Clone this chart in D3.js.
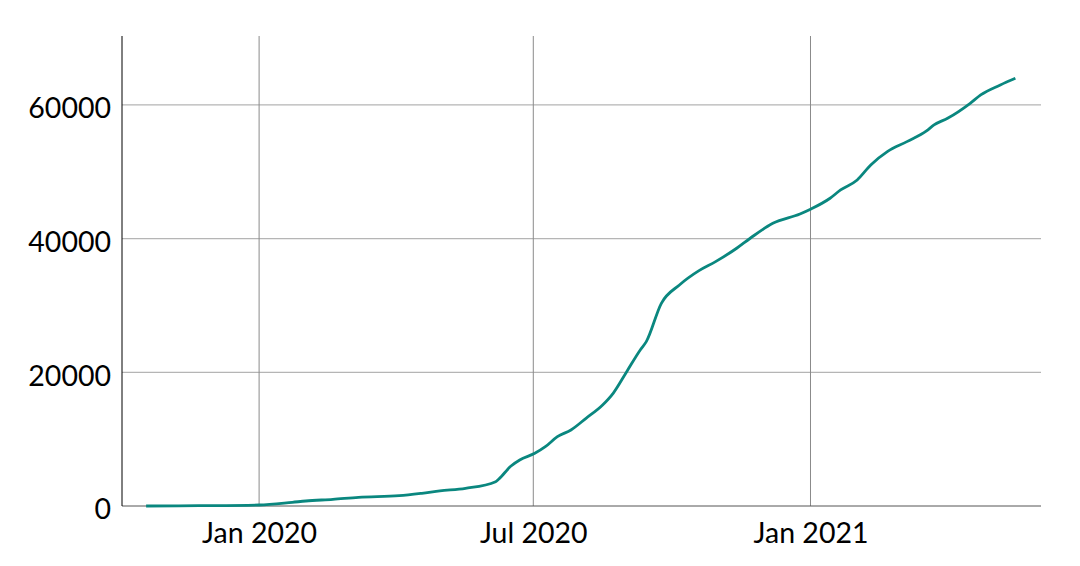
<!DOCTYPE html>
<html>
<head>
<meta charset="utf-8">
<script src="https://cdn.jsdelivr.net/npm/d3@7"></script>
<style>
  body { margin: 0; background: #fff; }
  svg { font-family: Lato, sans-serif; }
</style>
</head>
<body>
<svg id="chart" width="1080" height="566"></svg>
<script>
// cumulative count
let dates = ["2019-10-18","2019-11-22","2020-01-01","2020-01-23","2020-02-01","2020-02-19","2020-03-07",
  "2020-04-03","2020-04-18","2020-04-30","2020-05-17","2020-06-06","2020-06-08","2020-06-16","2020-06-22",
  "2020-07-02","2020-07-09","2020-07-17","2020-07-26","2020-08-05","2020-08-16","2020-08-23","2020-09-01",
  "2020-09-10","2020-09-14","2020-09-24","2020-10-06","2020-10-19","2020-10-30","2020-11-13","2020-11-22",
  "2020-12-07","2020-12-25","2021-01-01","2021-01-14","2021-01-21","2021-02-01","2021-02-10","2021-02-21",
  "2021-03-06","2021-03-19","2021-03-24","2021-04-02","2021-04-17","2021-04-24","2021-05-07","2021-05-17"];
let counts = [0, 50, 150, 550, 750, 1000, 1300,
  1540, 1900, 2250, 2650, 3640, 4000, 5940, 6880,
  7880, 8870, 10370, 11370, 13120, 15110, 16860, 20090,
  23340, 24580, 30320, 33060, 35200, 36550, 38550, 40050,
  42290, 43680, 44390, 46030, 47270, 48770, 51010, 53000,
  54500, 56100, 57000, 58000, 60240, 61490, 62980, 63980];
let yTicks = [0, 20000, 40000, 60000];
let xTicks = ["2020-01-01", "2020-07-01", "2021-01-01"];

let parse = d3.timeParse("%Y-%m-%d");
let series = dates.map((d, i) => ({ date: parse(d), value: counts[i] }));

let svg = d3.select("#chart");
let plotLeft = 122, plotRight = 1041, plotTop = 36, plotBottom = 506;

let xScale = d3.scaleTime()
  .domain([parse("2019-10-02"), parse("2021-06-03")])
  .range([plotLeft, plotRight]);

let yScale = d3.scaleLinear()
  .domain([0, 70300])
  .range([plotBottom, plotTop]);

// grid
svg.append("g")
  .selectAll("line")
  .data(yTicks.slice(1))
  .join("line")
  .attr("x1", plotLeft).attr("x2", plotRight)
  .attr("y1", d => yScale(d)).attr("y2", d => yScale(d))
  .attr("stroke", "#b5b5b5")
  .attr("stroke-width", 1.2);

svg.append("g")
  .selectAll("line")
  .data(xTicks.map(parse))
  .join("line")
  .attr("x1", d => xScale(d)).attr("x2", d => xScale(d))
  .attr("y1", plotTop).attr("y2", plotBottom)
  .attr("stroke", "#8a8a8a")
  .attr("stroke-width", 1);

// axes
let xAxis = svg.append("g")
  .attr("transform", `translate(0,${plotBottom})`)
  .call(d3.axisBottom(xScale)
    .tickValues(xTicks.map(parse))
    .tickFormat(d3.timeFormat("%b %Y"))
    .tickSize(0)
    .tickPadding(17));
xAxis.select(".domain").attr("stroke", "#555").attr("d", `M${plotLeft},0H${plotRight}`);
xAxis.selectAll("text").attr("font-size", 28.5).attr("fill", "#000").attr("font-family", "Lato, sans-serif");

let yAxis = svg.append("g")
  .attr("transform", `translate(${plotLeft},0)`)
  .call(d3.axisLeft(yScale)
    .tickValues(yTicks)
    .tickFormat(d3.format("d"))
    .tickSize(0)
    .tickPadding(11));
yAxis.select(".domain").attr("stroke", "#000").attr("d", `M0,${plotTop}V${plotBottom}`);
yAxis.selectAll("text").attr("font-size", 28.5).attr("dy", "0.45em").attr("fill", "#000").attr("font-family", "Lato, sans-serif");

// line
svg.append("path")
  .datum(series)
  .attr("fill", "none")
  .attr("stroke", "#0a877f")
  .attr("stroke-width", 2.8)
  .attr("stroke-linejoin", "round")
  .attr("d", d3.line()
    .x(d => xScale(d.date))
    .y(d => yScale(d.value))
    .curve(d3.curveMonotoneX));
</script>
</body>
</html>
